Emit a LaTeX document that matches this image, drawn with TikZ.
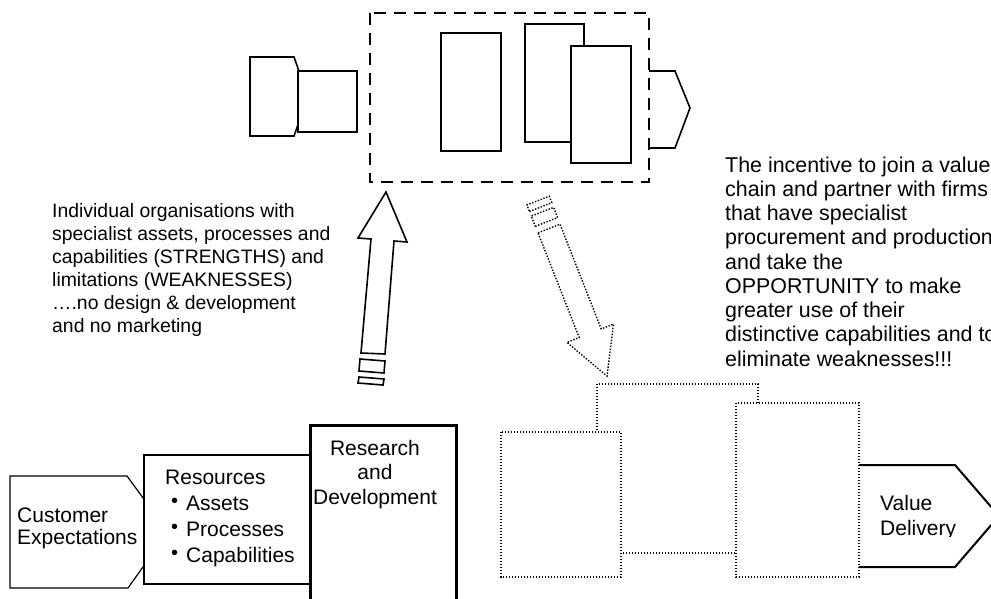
\documentclass[tikz,border=0pt]{standalone}
\usepackage{fontspec}
\setmainfont{Liberation Sans}
\begin{document}
\begin{tikzpicture}[x=1pt,y=-1pt,
  outline/.style={line width=1.6pt, line join=miter},
  heavy/.style={line width=3pt},
  frame/.style={line width=2.3pt, dash pattern=on 12pt off 8pt},
  dots/.style={line width=1.4pt, dash pattern=on 1.4pt off 1.6pt},
  paper/.style={fill=white},
  label/.style={inner sep=0pt, anchor=base west}]
\useasboundingbox (0,0) rectangle (991,598);
\clip (0,0) rectangle (991,598);

% ---------- upper chain: separate organisations ----------
\draw[outline, paper] (250,57) -- (294,57) -- (308,96.5) -- (294,136) -- (250,136) -- cycle;
\draw[line width=2.4pt, paper] (298,71) rectangle (357,132);
\draw[frame] (370,13) rectangle (649,182);
\draw[outline, paper] (525,24) rectangle (584,142);
\draw[outline, paper] (441,33) rectangle (501,151);
\draw[outline, paper] (571,46) rectangle (631,163);
\draw[outline] (649,71) -- (675,71) -- (690,108) -- (675,148) -- (649,148);

% ---------- block arrows ----------
\draw[outline] (361,353) -- (371,239) -- (358,238) -- (386,192) -- (407,242)
  -- (394,241) -- (385,354) -- cycle;
\draw[outline] (360,359) -- (385,361) -- (384,373) -- (359,371) -- cycle;
\draw[outline] (359,377) -- (384,379) -- (383,385) -- (358,383) -- cycle;

\draw[dots] (538.0,232.8) -- (560.0,224.2) -- (601.2,328.9) -- (613.5,324.1)
  -- (607,376.1) -- (566.9,342.4) -- (579.2,337.5) -- cycle;
\draw[dots] (535.3,226.4) -- (557.6,217.6) -- (553.6,207.4) -- (531.2,216.1) -- cycle;
\draw[dots] (529.4,211.5) -- (551.8,202.7) -- (549.2,196.2) -- (526.9,205.0) -- cycle;

% ---------- lower chain: integrated value chain ----------
\draw[outline, line width=1.2pt, paper] (10,476) -- (127,476) -- (168,532) -- (128,588) -- (10,588) -- cycle;
\draw[line width=1.2pt, paper] (144,455) rectangle (316,584);
\draw[heavy, paper] (310,425) rectangle (456,602);

\draw[dots, paper] (597,384) rectangle (758,553);
\draw[dots, paper] (501,432) rectangle (621,577);
\draw[dots, paper] (736,403) rectangle (859,577);
\draw[line width=2pt] (859,465) -- (955,465) -- (999,516) -- (955,567) -- (859,567);

% ---------- texts ----------
\node[label] (expect) at (17,522)
  {\fontsize{21}{22}\selectfont\begin{tabular}[t]{@{}l@{}}Customer\\Expectations\end{tabular}};
\node[label] (res) at (165,484) {\fontsize{21}{26}\selectfont Resources};
\node[label] (reslist) at (171,510)
  {\fontsize{21}{26.2}\selectfont\begin{tabular}[t]{@{}p{15pt}@{}l@{}}
   \raisebox{2.5pt}{\fontsize{20}{20}\selectfont •} & Assets\\
   \raisebox{2.5pt}{\fontsize{20}{20}\selectfont •} & Processes\\
   \raisebox{2.5pt}{\fontsize{20}{20}\selectfont •} & Capabilities\end{tabular}};
\node[inner sep=0pt, anchor=base] (rnd) at (375,455)
  {\fontsize{21}{24.5}\selectfont\begin{tabular}[t]{@{}c@{}}Research\\and\\Development\end{tabular}};
\begin{scope}
  \clip (862,470) rectangle (975,536);
  \node[label] (value) at (880,510)
    {\fontsize{21}{25}\selectfont\begin{tabular}[t]{@{}l@{}}Value\\Delivery\end{tabular}};
\end{scope}

\node[label] (strengths) at (52,217)
  {\fontsize{19.4}{23}\selectfont\begin{tabular}[t]{@{}l@{}}
   Individual organisations with\\
   specialist assets, processes and\\
   capabilities (STRENGTHS) and\\
   limitations (WEAKNESSES)\\
   ….no design \& development\\
   and no marketing\end{tabular}};
\node[label] (incentive) at (725,172)
  {\fontsize{21.4}{24.25}\selectfont\begin{tabular}[t]{@{}l@{}}
   The incentive to join a value\\
   chain and partner with firms\\
   that have specialist\\
   procurement and production\\
   and take the\\
   OPPORTUNITY to make\\
   greater use of their\\
   distinctive capabilities and to\\
   eliminate weaknesses!!!\end{tabular}};
\end{tikzpicture}
\end{document}
